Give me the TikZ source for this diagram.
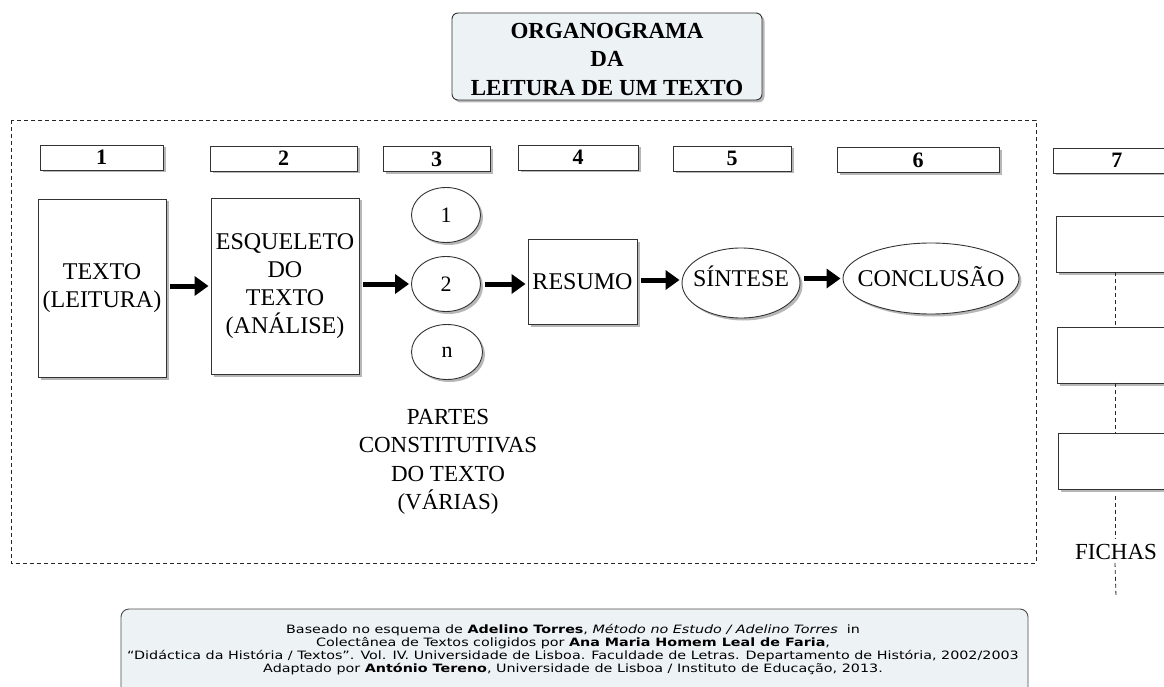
\documentclass[tikz,border=0pt]{standalone}
\usepackage{fontspec}
\usepackage{graphicx}
\setmainfont{Liberation Serif}
\newfontfamily\notefont{DejaVu Sans}
\usetikzlibrary{shapes.geometric,shadows,arrows.meta}

\definecolor{panel}{HTML}{EDF2F4}
\definecolor{edge}{HTML}{333333}

\tikzset{
  shad/.style={drop shadow={shadow xshift=2.5pt,shadow yshift=-2.5pt,fill=black!40,opacity=0.7}},
  numbox/.style={draw=edge,line width=0.9pt,fill=white,shad,inner sep=0pt,
    minimum height=25pt,font=\bfseries\fontsize{22}{24}\selectfont},
  stagebox/.style={draw=edge,line width=0.9pt,fill=white,shad,inner sep=0pt,align=center,
    font=\fontsize{24}{28}\selectfont},
  stageell/.style={ellipse,draw=edge,line width=0.9pt,fill=white,shad,
    inner xsep=-25pt,inner ysep=0pt,text height=16.5pt,text depth=0pt,
    font=\fontsize{24}{28}\selectfont},
  partell/.style={ellipse,draw=edge,line width=0.9pt,fill=white,shad,inner sep=0pt,
    minimum width=69pt,minimum height=55pt,font=\fontsize{22}{24}\selectfont},
  fichabox/.style={draw=edge,line width=0.9pt,fill=white,shad,inner sep=0pt,
    minimum width=124pt,minimum height=56pt,anchor=west},
  flow/.style={line width=5pt,-{Triangle[length=14pt,width=19pt]},shorten <=4pt,shorten >=2pt},
  frame/.style={line width=0.8pt,dash pattern=on 4pt off 3pt,draw=black!85},
  plain/.style={inner sep=0pt,align=center,font=\fontsize{23}{28.5}\selectfont}
}

\begin{document}
\begin{tikzpicture}[x=1pt,y=-1pt]
\clip (0,0) rectangle (1164,687);
\fill[white] (0,0) rectangle (1164,687);

% title panel
\node[draw=edge,line width=0.9pt,fill=panel,rounded corners=6pt,shad,
      minimum width=310pt,minimum height=87pt,inner sep=0pt] (title) at (607,56.5) {};
\node[inner sep=0pt,align=center,font=\bfseries\fontsize{23}{28.5}\selectfont]
      (titletext) at ([yshift=-3pt]title.center) {ORGANOGRAMA\\DA\\LEITURA DE UM TEXTO};

% dashed frame around stages 1-6
\draw[frame] (11,120) rectangle (1036,563);

% stage numbers
\node[numbox,minimum width=123pt] (n1) at (101.5,157.5) {1};
\node[numbox,minimum width=147pt] (n2) at (283.5,158.5) {2};
\node[numbox,minimum width=107pt] (n3) at (436.5,159) {3};
\node[numbox,minimum width=120pt] (n4) at (578,157.5) {4};
\node[numbox,minimum width=118pt] (n5) at (732,158.5) {5};
\node[numbox,minimum width=162pt] (n6) at (918,160) {6};
\node[numbox,minimum width=127pt,anchor=west] (n7) at (1053,160.5) {7};

% stages
\node[stagebox,minimum width=128pt,minimum height=178pt] (texto) at (102,288)
  {TEXTO\\(LEITURA)};
\node[stagebox,minimum width=148pt,minimum height=176pt] (esq) at (285,286)
  {ESQUELETO\\DO\\TEXTO\\(ANÁLISE)};
\node[partell] (p1) at (446,215) {1};
\node[partell] (p2) at (446,284) {2};
\node[partell,minimum width=71pt] (pn) at (447,352) {n};
\node[stagebox,minimum width=109pt,minimum height=85pt] (resumo) at (582.5,281.5) {RESUMO};
\node[stageell,text depth=9pt,minimum width=118pt,minimum height=70pt] (sintese) at (741,283) {SÍNTESE};
\node[stageell,minimum width=176pt,minimum height=71pt] (concl) at (931,278.5) {CONCLUSÃO};

\node[plain] (partes) at (448,462)
  {PARTES\\CONSTITUTIVAS\\DO TEXTO\\(VÁRIAS)};

% flow arrows
\draw[flow] (texto.east |- esq.east) -- (esq.west);
\draw[flow] (esq.east |- p2.west) -- (p2.west);
\draw[flow] (p2.east) -- (p2.east -| resumo.west);
\draw[flow] ([yshift=1.5pt]resumo.east) -- ([yshift=1.5pt]resumo.east -| sintese.west);
\draw[flow] (sintese.east |- concl.west) -- (concl.west);

% index cards column
\coordinate (col) at (1115,0);
\coordinate (colend) at (1116,597);
\node[fichabox] (fa) at (1056,244) {};
\node[fichabox] (fb) at (1057,355) {};
\node[fichabox] (fc) at (1058,461.5) {};
\node[plain] (fichas) at (1116,552) {FICHAS};
\begin{scope}[frame]
  \draw (fa.south -| col) -- (fb.north -| col);
  \draw (fb.south -| col) -- (fc.north -| col);
  \draw ([yshift=-6pt]fc.south -| col) -- ([yshift=5pt]fichas.north -| col);
  \draw ([yshift=-3pt]fichas.south -| col) -- (colend);
\end{scope}

% source note
\draw[draw=black!70,line width=0.9pt,fill=panel,rounded corners=8pt] (121,609) rectangle (1028,705);
\node[inner sep=0pt,font=\notefont\fontsize{11.5}{13.1}\selectfont] (note) at (573,650.5)
  {\scalebox{1.245}[1]{\begin{tabular}{@{}c@{}}
   Baseado no esquema de \textbf{Adelino Torres}, \textit{Método no Estudo / Adelino Torres}\ \ in\\
   Colectânea de Textos coligidos por \textbf{Ana Maria Homem Leal de Faria},\\
   “Didáctica da História / Textos”. Vol. IV. Universidade de Lisboa. Faculdade de Letras. Departamento de História, 2002/2003\\
   Adaptado por \textbf{António Tereno}, Universidade de Lisboa / Instituto de Educação, 2013.
   \end{tabular}}};
\end{tikzpicture}
\end{document}
